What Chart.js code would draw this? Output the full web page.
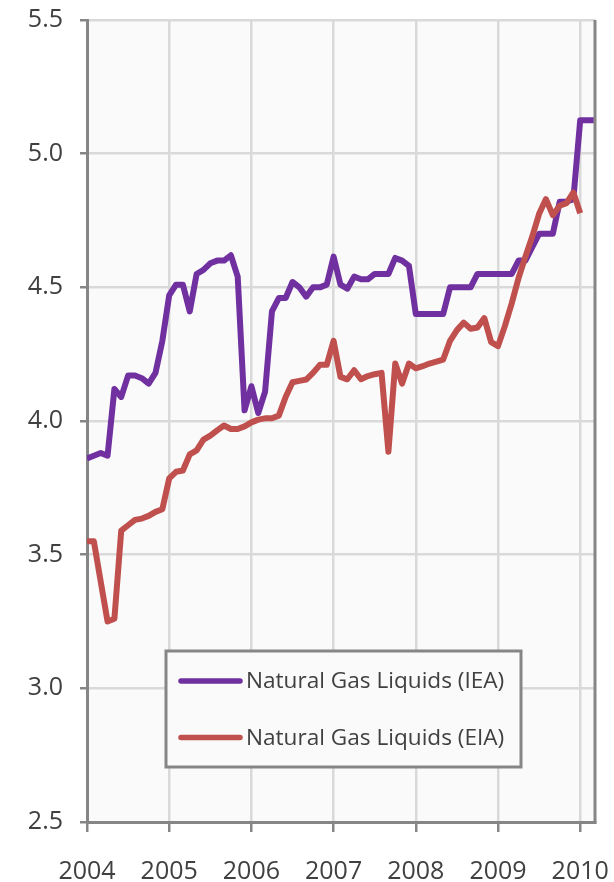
<!DOCTYPE html>
<html>
<head>
<meta charset="utf-8">
<title>Natural Gas Liquids</title>
<script src="https://cdn.jsdelivr.net/npm/chart.js@4.4.0/dist/chart.umd.min.js"></script>
<style>
  html, body { margin: 0; padding: 0; background: #ffffff; }
  #wrap { width: 614px; height: 882px; }
</style>
</head>
<body>
<div id="wrap"><canvas id="myChart" width="614" height="882"></canvas></div>
<script>
"use strict";

// monthly series, starting January 2004
const startYear = 2004;
const yearTicks = [2004, 2005, 2006, 2007, 2008, 2009, 2010];

const ieaValues = [
    3.86, 3.87, 3.88, 3.87, 4.12, 4.09, 4.17, 4.17, 4.16, 4.14, 4.18, 4.30,
    4.47, 4.51, 4.51, 4.41, 4.55, 4.565, 4.59, 4.60, 4.60, 4.62, 4.54, 4.04,
    4.13, 4.03, 4.11, 4.41, 4.46, 4.46, 4.52, 4.50, 4.465, 4.50, 4.50, 4.51,
    4.615, 4.51, 4.495, 4.54, 4.53, 4.53, 4.55, 4.55, 4.55, 4.61, 4.60, 4.58,
    4.40, 4.40, 4.40, 4.40, 4.40, 4.50, 4.50, 4.50, 4.50, 4.55, 4.55, 4.55,
    4.55, 4.55, 4.55, 4.60, 4.60, 4.65, 4.70, 4.70, 4.70, 4.82, 4.82, 4.83,
    5.125, 5.125, 5.125];

const eiaValues = [
    3.55, 3.55, 3.40, 3.25, 3.26, 3.59, 3.61, 3.63, 3.635, 3.645, 3.66, 3.67,
    3.785, 3.81, 3.815, 3.875, 3.89, 3.93, 3.945, 3.965, 3.983, 3.97, 3.97, 3.98,
    3.995, 4.005, 4.01, 4.01, 4.02, 4.09, 4.145, 4.15, 4.155, 4.18, 4.21, 4.21,
    4.30, 4.165, 4.156, 4.19, 4.156, 4.168, 4.175, 4.18, 3.885, 4.215, 4.14, 4.215,
    4.197, 4.205, 4.215, 4.222, 4.23, 4.30, 4.34, 4.368, 4.345, 4.35, 4.385, 4.295,
    4.28, 4.355, 4.44, 4.535, 4.615, 4.69, 4.775, 4.83, 4.77, 4.805, 4.815, 4.855,
    4.777];

const seriesNames = ['Natural Gas Liquids (IEA)', 'Natural Gas Liquids (EIA)'];
const seriesColors = ['#7030A0', '#C0504D'];

const textColor = '#404040';
const axisColor = '#868686';
const gridColor = '#d9d9d9';
const fontFamily = '"Open Sans", "Noto Sans", sans-serif';

function toPoints(values) {
    let pts = [];
    for (let i = 0; i < values.length; i++) {
        pts.push({ x: startYear + i / 12, y: values[i] });
    }
    return pts;
}

// light fill behind the plot + right frame line
const plotFrame = {
    id: 'plotFrame',
    beforeDraw(chart) {
        const a = chart.chartArea;
        const ctx = chart.ctx;
        ctx.save();
        ctx.fillStyle = '#fafafa';
        ctx.fillRect(a.left, a.top, a.right - a.left, a.bottom - a.top);
        ctx.restore();
    },
    afterDraw(chart) {
        const a = chart.chartArea;
        const ctx = chart.ctx;
        ctx.save();
        ctx.strokeStyle = axisColor;
        ctx.lineWidth = 3;
        ctx.beginPath();
        ctx.moveTo(a.right, a.top);
        ctx.lineTo(a.right, a.bottom + 1.5);
        ctx.stroke();
        ctx.restore();
    }
};

// boxed legend sitting inside the plot
const boxLegend = {
    id: 'boxLegend',
    afterDraw(chart) {
        const ctx = chart.ctx;
        const box = { x: 166, y: 651, w: 355, h: 116 };
        ctx.save();
        ctx.fillStyle = '#fafafa';
        ctx.fillRect(box.x, box.y, box.w, box.h);
        ctx.strokeStyle = axisColor;
        ctx.lineWidth = 3;
        ctx.strokeRect(box.x, box.y, box.w, box.h);
        for (let i = 0; i < seriesNames.length; i++) {
            const y = 681 + i * 56.5;
            ctx.strokeStyle = seriesColors[i];
            ctx.lineWidth = 5.5;
            ctx.lineCap = 'round';
            ctx.beginPath();
            ctx.moveTo(181, y);
            ctx.lineTo(240, y);
            ctx.stroke();
            ctx.fillStyle = textColor;
            ctx.font = '22.6px ' + fontFamily;
            ctx.textBaseline = 'middle';
            ctx.textAlign = 'left';
            ctx.fillText(seriesNames[i], 246, y + 1);
        }
        ctx.restore();
    }
};

const ctx = document.getElementById('myChart').getContext('2d');
const myChart = new Chart(ctx, {
    type: 'line',
    data: {
        datasets: [{
            label: seriesNames[0],
            data: toPoints(ieaValues),
            borderColor: seriesColors[0],
            borderWidth: 6,
            pointRadius: 0,
            tension: 0,
            borderJoinStyle: 'round',
            order: 1
        },
        {
            label: seriesNames[1],
            data: toPoints(eiaValues),
            borderColor: seriesColors[1],
            borderWidth: 6,
            pointRadius: 0,
            tension: 0,
            borderJoinStyle: 'round',
            order: 0
        }]
    },
    options: {
        responsive: false,
        animation: false,
        layout: { padding: { top: 20, right: 19, left: 0, bottom: 0 } },
        plugins: {
            legend: { display: false },
            tooltip: { enabled: false }
        },
        scales: {
            x: {
                type: 'linear',
                min: startYear,
                max: 2010.18,
                afterBuildTicks: (scale) => {
                    scale.ticks = yearTicks.map(v => ({ value: v }));
                },
                afterFit: (scale) => {
                    scale.height = 60;
                    scale.paddingLeft = 0;
                    scale.paddingRight = 0;
                },
                ticks: {
                    autoSkip: false,
                    maxRotation: 0,
                    padding: 25,
                    color: textColor,
                    font: { family: fontFamily, size: 25 },
                    callback: (v) => String(v)
                },
                grid: {
                    color: gridColor,
                    lineWidth: 2.5,
                    tickColor: axisColor,
                    tickLength: 10,
                    tickWidth: 2.5
                },
                border: { display: true, color: axisColor, width: 3 }
            },
            y: {
                min: 2.5,
                max: 5.5,
                afterFit: (scale) => {
                    scale.width = 87;
                    scale.paddingTop = 0;
                    scale.paddingBottom = 0;
                },
                ticks: {
                    stepSize: 0.5,
                    padding: 17,
                    color: textColor,
                    font: { family: fontFamily, size: 25 },
                    callback: (v) => v.toFixed(1)
                },
                grid: {
                    color: gridColor,
                    lineWidth: 2.5,
                    tickColor: axisColor,
                    tickLength: 7,
                    tickWidth: 2.5
                },
                border: { display: true, color: axisColor, width: 3 }
            }
        }
    },
    plugins: [plotFrame, boxLegend]
});
</script>
</body>
</html>
